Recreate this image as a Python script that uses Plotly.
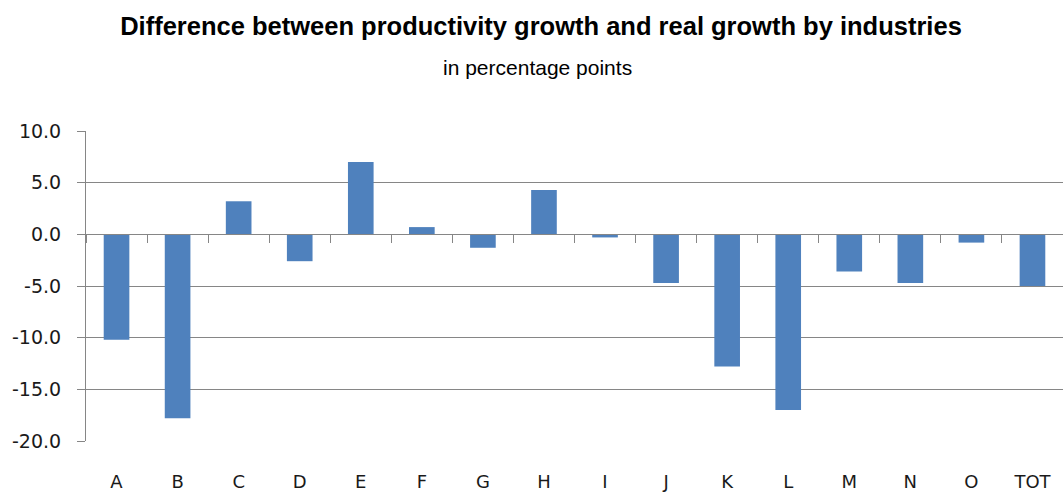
import plotly.graph_objects as go

categories = ["A", "B", "C", "D", "E", "F", "G", "H", "I", "J", "K", "L", "M", "N", "O", "TOT"]
values = [-10.2, -17.8, 3.2, -2.6, 7.0, 0.7, -1.3, 4.3, -0.3, -4.7, -12.8, -17.0, -3.6, -4.7, -0.8, -5.0]
y_ticks = [10, 5, 0, -5, -10, -15, -20]
y_ticklabels = ["10.0", "5.0", "0.0", "-5.0", "-10.0", "-15.0", "-20.0"]

GRID = "#868686"
BAR = "#4F81BD"
TXT = "#1a1a1a"

fig = go.Figure()
fig.add_trace(go.Bar(x=categories, y=values, marker_color=BAR, marker_line_width=0,
                     xaxis="x", yaxis="y", hoverinfo="x+y"))
# invisible trace that carries the category axis drawn at zero
fig.add_trace(go.Scatter(x=categories, y=[None] * len(categories), xaxis="x2", yaxis="y",
                         mode="markers", showlegend=False, hoverinfo="skip"))

n = len(categories)
fig.update_layout(
    width=1063, height=492,
    margin=dict(l=86, r=0, t=131, b=49),
    paper_bgcolor="white", plot_bgcolor="white",
    bargap=0.58,
    showlegend=False,
    title=dict(
        text="<b>Difference between productivity growth and real growth by industries</b>",
        x=(541 - 0) / 1063, xanchor="center", y=1 - 26 / 492, yanchor="middle",
        font=dict(family="Liberation Sans, Arial, sans-serif", size=25.5, color="black"),
    ),
    annotations=[dict(
        text="in percentage points", xref="paper", yref="paper",
        x=(537 - 86) / 977, y=1 + (131 - 67) / 312, xanchor="center", yanchor="middle",
        showarrow=False, font=dict(family="Liberation Sans, Arial, sans-serif", size=21, color="black"),
    )],
    xaxis=dict(
        type="category", categoryorder="array", categoryarray=categories,
        range=[-0.5, n - 0.5], showgrid=False, showline=False, ticks="",
        tickfont=dict(family="DejaVu Sans, sans-serif", size=18, color=TXT),
        ticklabelstandoff=28,
    ),
    xaxis2=dict(
        type="category", categoryorder="array", categoryarray=categories,
        range=[-0.5, n - 0.5], overlaying="x", anchor="free", position=20 / 30,
        side="bottom", showgrid=False, showline=True, linecolor=GRID, linewidth=1,
        ticks="outside", tickson="boundaries", ticklen=8, tickwidth=1, tickcolor=GRID,
        showticklabels=False,
    ),
    yaxis=dict(
        range=[-20, 10], tickvals=y_ticks, ticktext=y_ticklabels,
        showgrid=True, gridcolor=GRID, gridwidth=1, zeroline=False,
        showline=True, linecolor=GRID, linewidth=1,
        ticks="outside", ticklen=8, tickcolor=GRID, tickwidth=1,
        tickfont=dict(family="DejaVu Sans, sans-serif", size=19, color=TXT),
        ticklabelstandoff=12,
    ),
)

fig.write_html("out.html", config={"displayModeBar": False},
               post_script="document.body.style.margin='0';")
